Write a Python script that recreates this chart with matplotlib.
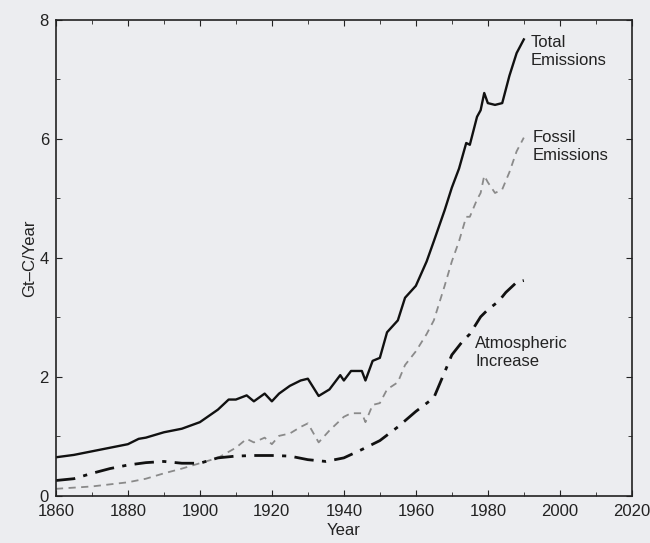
import matplotlib
matplotlib.use("Agg")
import matplotlib.pyplot as plt
from matplotlib.ticker import MultipleLocator

# Total emissions (solid)
total_years = [1860, 1865, 1870, 1875, 1880, 1883, 1885, 1890, 1895, 1900, 1905, 1908, 1910,
               1913, 1915, 1918, 1920, 1922, 1925, 1928, 1930, 1933, 1936, 1939, 1940, 1942,
               1945, 1946, 1948, 1950, 1952, 1955, 1957, 1960, 1963, 1965, 1968, 1970, 1972,
               1974, 1975, 1977, 1978, 1979, 1980, 1982, 1984, 1986, 1988, 1990]
total_vals = [0.65, 0.69, 0.75, 0.81, 0.87, 0.96, 0.98, 1.07, 1.13, 1.24, 1.45, 1.62, 1.62,
              1.69, 1.59, 1.72, 1.59, 1.72, 1.85, 1.94, 1.97, 1.68, 1.79, 2.03, 1.94, 2.10,
              2.10, 1.94, 2.27, 2.32, 2.75, 2.95, 3.33, 3.53, 3.94, 4.28, 4.80, 5.18, 5.50,
              5.93, 5.90, 6.37, 6.48, 6.77, 6.60, 6.57, 6.60, 7.06, 7.44, 7.67]

# Fossil emissions (grey dashed)
fossil_years = [1860, 1870, 1880, 1885, 1890, 1895, 1900, 1905, 1910, 1913, 1915, 1918, 1920,
                1922, 1925, 1928, 1930, 1933, 1936, 1940, 1942, 1945, 1946, 1948, 1950, 1952,
                1955, 1957, 1960, 1963, 1965, 1968, 1970, 1972, 1974, 1975, 1977, 1978, 1979,
                1980, 1982, 1984, 1986, 1988, 1990]
fossil_vals = [0.12, 0.16, 0.23, 0.29, 0.38, 0.46, 0.55, 0.64, 0.81, 0.96, 0.90, 0.98, 0.87,
               1.01, 1.05, 1.16, 1.22, 0.90, 1.10, 1.33, 1.39, 1.39, 1.24, 1.53, 1.56, 1.79,
               1.91, 2.20, 2.43, 2.72, 2.95, 3.53, 3.94, 4.28, 4.69, 4.69, 4.98, 5.09, 5.38,
               5.27, 5.09, 5.15, 5.44, 5.79, 6.02]

# Atmospheric increase (dash-dot)
atm_years = [1860, 1865, 1870, 1875, 1880, 1885, 1890, 1895, 1900, 1905, 1910, 1915, 1920,
             1925, 1930, 1935, 1940, 1945, 1950, 1955, 1960, 1965, 1968, 1970, 1973, 1975,
             1978, 1980, 1983, 1985, 1988, 1990]
atm_vals = [0.26, 0.29, 0.38, 0.46, 0.52, 0.56, 0.58, 0.55, 0.55, 0.64, 0.67, 0.68, 0.68,
            0.67, 0.61, 0.58, 0.64, 0.78, 0.93, 1.16, 1.42, 1.65, 2.08, 2.37, 2.60, 2.72,
            3.01, 3.13, 3.27, 3.42, 3.59, 3.62]

x_ticks = [1860, 1880, 1900, 1920, 1940, 1960, 1980, 2000, 2020]
y_ticks = [0, 2, 4, 6, 8]

bg = "#ecedf0"
ink = "#222222"
plt.rcParams['font.family'] = ['Liberation Sans', 'DejaVu Sans']

fig = plt.figure(figsize=(6.5, 5.43), dpi=100, facecolor=bg)
ax = fig.add_axes([0.086, 0.0866, 0.886, 0.877])
ax.set_facecolor(bg)

ax.plot(total_years, total_vals, color="#111111", lw=1.7, ls='-')
ax.plot(fossil_years, fossil_vals, color="#8a8a8a", lw=1.3, ls=(0, (4, 3)))
ax.plot(atm_years, atm_vals, color="#111111", lw=2.0, ls=(0, (7, 3, 1.5, 3)))

ax.text(1991.8, 7.75, "Total\nEmissions", fontsize=12, va='top', ha='left',
        color=ink, linespacing=1.25)
ax.text(1992.5, 6.15, "Fossil\nEmissions", fontsize=12, va='top', ha='left',
        color=ink, linespacing=1.25)
ax.text(1976.5, 2.68, "Atmospheric\nIncrease", fontsize=12, va='top', ha='left',
        color=ink, linespacing=1.25)

ax.set_xlim(1860, 2020)
ax.set_ylim(0, 8)
ax.set_xticks(x_ticks)
ax.set_yticks(y_ticks)
ax.xaxis.set_minor_locator(MultipleLocator(10))
ax.yaxis.set_minor_locator(MultipleLocator(1))
ax.tick_params(which='both', direction='in', top=True, right=True, labelsize=12,
               colors=ink)
ax.tick_params(axis='x', which='major', pad=6)
ax.tick_params(axis='y', which='major', pad=5)
ax.tick_params(which='major', length=4)
ax.tick_params(which='minor', length=3)
for s in ax.spines.values():
    s.set_linewidth(1.2)
    s.set_color(ink)

ax.set_xlabel("Year", fontsize=12, labelpad=3, color=ink)
ax.set_ylabel("Gt\u2013C/Year", fontsize=12, labelpad=2, color=ink)

fig.savefig("out.png", dpi=100, facecolor=bg)
